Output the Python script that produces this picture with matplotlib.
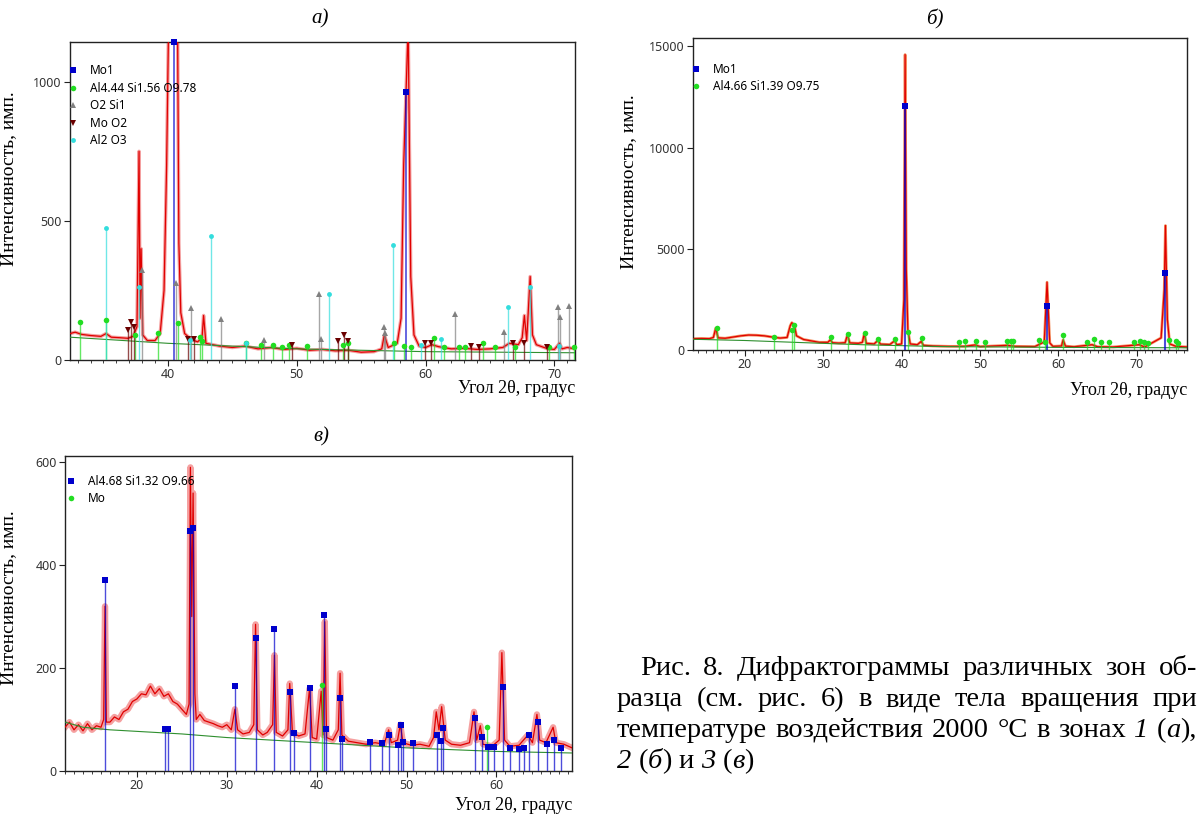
import matplotlib
matplotlib.use('Agg')
import matplotlib.pyplot as plt
from matplotlib.ticker import MultipleLocator

plt.rcParams['font.family'] = ['Noto Sans', 'DejaVu Sans']
SERIF = ['Liberation Serif', 'DejaVu Serif']

# ---------------- panel a) ----------------
a_x = [32.4, 32.8, 33.3, 34.0, 34.8, 35.2, 35.6, 36.3, 36.9, 37.3, 37.6, 37.76, 37.84, 37.92, 38.05,
       38.4, 39.0, 39.4, 39.7, 39.9, 40.05, 40.75, 40.85, 41.0, 41.3, 41.8, 42.3, 42.65, 42.77, 42.95,
       44.0, 45.0, 46.0, 47.0, 48.0, 49.0, 50.0, 51.0, 52.0, 53.0, 54.0, 55.0, 56.0, 56.6, 56.8, 57.1,
       57.8, 58.1, 58.3, 58.65, 58.85, 59.1, 59.5, 60.0, 60.5, 61.0, 62.0, 63.0, 64.0, 65.0, 66.0,
       66.5, 67.2, 67.5, 67.67, 67.85, 68.12, 68.3, 68.6, 69.5, 70.0, 70.4, 70.6, 71.0, 71.6]
a_y = [95, 100, 92, 88, 85, 95, 82, 80, 78, 85, 120, 750, 150, 400, 90,
       70, 70, 95, 250, 700, 1200, 1200, 420, 170, 95, 75, 65, 80, 160, 60,
       50, 45, 50, 40, 45, 38, 42, 35, 38, 33, 35, 28, 30, 40, 90, 45,
       60, 150, 700, 1200, 300, 90, 50, 45, 55, 48, 40, 42, 38, 40, 45,
       60, 55, 80, 160, 70, 300, 90, 55, 40, 38, 60, 40, 45, 40]
a_base_x = [32.4, 40.0, 50.0, 60.0, 71.6]
a_base_y = [82, 60, 40, 30, 26]

a_mo_x = [40.45, 58.52]
a_mo_y = [1143, 963]
a_al_x = [33.17, 35.2, 37.47, 39.22, 40.78, 42.47, 42.68, 46.08, 47.19, 48.14, 48.88, 49.42, 50.76,
          53.6, 53.95, 57.53, 58.34, 58.87, 60.66, 61.41, 62.6, 63.05, 64.48, 65.37, 66.92, 69.6, 71.54]
a_al_y = [138, 142, 90, 98, 132, 84, 70, 60, 54, 54, 48, 54, 50,
          54, 60, 62, 52, 48, 78, 48, 48, 48, 60, 48, 48, 48, 48]
a_si_x = [38.0, 40.63, 41.79, 44.11, 47.48, 51.75, 51.9, 56.79, 56.88, 62.3, 66.06, 70.29, 70.41, 71.1]
a_si_y = [324, 278, 186, 146, 72, 238, 74, 118, 96, 166, 102, 190, 156, 194]
a_moo2_x = [36.9, 37.1, 37.35, 41.58, 42.03, 49.63, 53.2, 53.65, 54.0, 59.92, 60.45, 63.5, 64.15,
            66.77, 67.67, 69.46]
a_moo2_y = [108, 138, 118, 74, 74, 54, 70, 90, 70, 62, 60, 50, 48, 60, 60, 48]
a_al2o3_x = [35.17, 37.76, 41.7, 43.34, 46.08, 52.49, 57.44, 59.68, 61.2, 66.42, 68.12, 70.35]
a_al2o3_y = [474, 262, 72, 444, 60, 238, 412, 54, 74, 190, 262, 50]

# ---------------- panel б) ----------------
b_x = [13.4, 14.5, 15.5, 16.0, 16.3, 16.6, 17.5, 18.5, 19.5, 20.5, 21.5, 22.5, 23.5, 24.5, 25.4,
       25.8, 26.0, 26.3, 26.6, 27.5, 28.5, 29.5, 30.6, 30.9, 31.2, 32.0, 32.8, 33.1, 33.4, 34.5,
       35.0, 35.25, 35.5, 36.5, 37.0, 37.3, 38.5, 39.1, 39.4, 40.0, 40.3, 40.45, 40.6, 40.8, 41.1,
       42.0, 42.5, 42.8, 44.0, 46.0, 48.0, 49.4, 50.0, 53.5, 54.5, 57.0, 58.2, 58.55, 58.9, 59.3,
       60.4, 60.6, 60.9, 62.0, 64.3, 65.0, 67.0, 70.3, 71.0, 73.1, 73.5, 73.65, 73.9, 74.2, 75.0, 76.4]
b_y = [560, 570, 560, 620, 1080, 600, 580, 640, 700, 740, 730, 700, 640, 590, 620,
       1200, 1350, 1250, 700, 520, 450, 380, 380, 500, 360, 340, 360, 750, 350, 330,
       380, 820, 330, 300, 480, 290, 270, 450, 260, 300, 2500, 14600, 4000, 1000, 300,
       260, 420, 230, 200, 180, 180, 250, 170, 230, 180, 170, 400, 3350, 350, 180,
       200, 500, 190, 160, 260, 160, 150, 260, 150, 600, 3000, 6150, 1500, 300, 180, 150]
b_base_x = [13.4, 20.0, 27.0, 35.0, 45.0, 60.0, 76.4]
b_base_y = [530, 470, 370, 260, 170, 130, 110]

b_mo_x = [40.5, 58.55, 73.6]
b_mo_y = [12040, 2180, 3800]
b_al_x = [16.47, 23.7, 26.0, 26.25, 31.0, 33.2, 35.3, 37.0, 39.2, 40.8, 42.6, 47.3, 48.1, 49.5, 50.7,
          53.5, 53.9, 54.2, 57.5, 58.3, 60.6, 63.6, 64.5, 65.4, 66.5, 69.7, 70.4, 70.9, 71.4, 74.1,
          74.95, 75.3]
b_al_y = [1070, 630, 990, 1237, 660, 790, 825, 530, 530, 907, 578, 413, 463, 463, 413,
          450, 450, 450, 490, 413, 742, 413, 530, 413, 413, 413, 463, 413, 360, 490,
          463, 360]

# ---------------- panel в) ----------------
c_x = [12.0, 12.5, 13.0, 13.5, 14.0, 14.5, 15.0, 15.5, 16.0, 16.3, 16.45, 16.6, 17.0, 17.5, 18.0,
       18.5, 19.0, 19.5, 20.0, 20.5, 21.0, 21.5, 22.0, 22.5, 23.0, 23.5, 24.0, 24.5, 25.0, 25.5,
       25.8, 25.95, 26.1, 26.25, 26.45, 26.6, 27.0, 27.5, 28.0, 28.5, 29.0, 29.5, 30.0, 30.5, 30.9,
       31.2, 31.8, 32.5, 33.0, 33.2, 33.4, 34.0, 34.5, 35.1, 35.3, 35.5, 36.2, 36.8, 37.0, 37.3,
       38.0, 38.7, 39.2, 39.5, 40.0, 40.5, 40.7, 40.9, 41.1, 41.8, 42.4, 42.6, 42.8, 43.5, 44.5,
       45.5, 46.5, 47.5, 48.0, 48.3, 49.0, 49.3, 49.6, 50.5, 51.5, 52.5, 53.0, 53.3, 53.6, 53.9,
       54.3, 55.0, 56.0, 57.0, 57.5, 57.8, 58.2, 58.5, 59.5, 60.3, 60.6, 60.9, 61.5, 62.5, 63.5,
       64.0, 64.5, 64.8, 65.5, 66.3, 66.6, 67.5, 68.4]
c_y = [85, 95, 80, 90, 78, 92, 80, 88, 85, 100, 320, 95, 95, 105, 100,
       115, 120, 135, 140, 150, 148, 165, 150, 160, 145, 150, 135, 130, 120, 110,
       130, 590, 300, 540, 150, 100, 110, 98, 95, 92, 88, 85, 90, 80, 120,
       80, 72, 75, 90, 285, 80, 70, 75, 90, 225, 75, 68, 80, 170, 75,
       68, 72, 160, 65, 62, 155, 70, 290, 65, 60, 80, 190, 70, 58, 55,
       52, 55, 52, 80, 55, 60, 90, 55, 50, 52, 48, 65, 115, 80, 125,
       60, 52, 50, 55, 115, 60, 88, 52, 48, 60, 230, 60, 48, 50, 70,
       55, 110, 60, 55, 85, 55, 52, 45]
c_base_x = [12.0, 14.0, 17.0, 25.0, 30.0, 40.0, 50.0, 60.0, 68.4]
c_base_y = [95, 85, 80, 72, 65, 55, 45, 38, 35]

c_al_x = [16.4, 23.1, 23.5, 25.9, 26.2, 30.9, 33.2, 35.2, 37.0, 37.5, 39.2, 40.85, 41.05, 42.6, 42.85,
          45.98, 47.3, 48.05, 49.0, 49.4, 49.6, 50.75, 53.4, 53.8, 54.0, 57.66, 58.4, 59.1, 59.7,
          60.7, 61.55, 62.5, 63.1, 63.66, 64.65, 65.6, 66.35, 67.2]
c_al_y = [371, 81, 81, 466, 472, 166, 259, 275, 153, 73, 161, 303, 82, 142, 62,
          57, 55, 70, 51, 90, 57, 54, 69, 59, 83, 103, 67, 47, 47,
          163, 45, 43, 45, 69, 96, 52, 60, 45]
c_mo_x = [40.55, 58.9]
c_mo_y = [168, 85]

# caption lines: words, each word = pieces (text, italic)
cap_lines = [
    [[('Рис.', False)], [('8.', False)], [('Дифрактограммы', False)], [('различных', False)],
     [('зон', False)], [('об-', False)]],
    [[('разца', False)], [('(см.', False)], [('рис.', False)], [('6)', False)], [('в', False)],
     [('виде', False)], [('тела', False)], [('вращения', False)], [('при', False)]],
    [[('температуре', False)], [('воздействия', False)], [('2000', False)], [('°С', False)],
     [('в', False)], [('зонах', False)], [('1', True)], [('(', False), ('а', True), ('),', False)]],
    [[('2', True)], [('(', False), ('б', True), (')', False)], [('и', False)], [('3', True)],
     [('(', False), ('в', True), (')', False)]],
]

fig = plt.figure(figsize=(11.99, 8.19), dpi=100)
fig.patch.set_facecolor('white')
W, H = 1199.0, 819.0


def px_axes(l, t, r, b):
    return fig.add_axes([l / W, 1 - b / H, (r - l) / W, (b - t) / H])


def draw_panel(ax, cx, cy, bx, by, phases, band_lw, band_col):
    ax.plot(cx, cy, color=band_col, lw=band_lw, zorder=2, solid_joinstyle='round')
    ax.plot(cx, cy, color='#e00000', lw=0.9, zorder=3)
    ax.plot(bx, by, color='#2f8f2f', lw=0.8, zorder=3)
    for name, px, py, marker, color, ms, stick_lw in phases:
        ax.vlines(px, 0, py, colors=color, lw=stick_lw, alpha=0.7, zorder=3.5)
        ax.plot(px, py, ls='none', marker=marker, color=color, ms=ms, mew=0,
                label=name, zorder=5, clip_on=False)


def style_axes(ax, xlim, ylim, xmaj, ymaj):
    ax.set_xlim(*xlim)
    ax.set_ylim(*ylim)
    ax.xaxis.set_major_locator(MultipleLocator(xmaj))
    ax.xaxis.set_minor_locator(MultipleLocator(1))
    ax.yaxis.set_major_locator(MultipleLocator(ymaj))
    ax.tick_params(which='major', direction='out', length=4, width=0.8, color='#222222',
                   labelsize=9, labelcolor='#333333', pad=2)
    ax.tick_params(which='minor', direction='out', length=2.5, width=0.6, color='#222222')
    for s in ax.spines.values():
        s.set_linewidth(1.0)
        s.set_color('#222222')


def add_legend(ax, x_off, y_off):
    ax.legend(loc='upper left', bbox_to_anchor=(x_off, y_off), frameon=False, fontsize=8.5,
              handlelength=0.5, handletextpad=1.2, labelspacing=0.38, borderaxespad=0,
              borderpad=0, markerscale=1.0)


def labels(ax, yl_x, yl_y, xl_y):
    ax.set_ylabel('Интенсивность, имп.', family=SERIF, fontsize=14)
    ax.yaxis.set_label_coords(yl_x, yl_y)
    ax.text(1.0, xl_y, 'Угол 2θ, градус', transform=ax.transAxes, ha='right', va='center',
            family=SERIF, fontsize=13)


GREEN = '#22dd22'
BLUE = '#0000cc'

# a)
ax_a = px_axes(70, 42, 575, 360)
draw_panel(ax_a, a_x, a_y, a_base_x, a_base_y, [
    ('Mo1', a_mo_x, a_mo_y, 's', BLUE, 5, 1.2),
    ('Al4.44 Si1.56 O9.78', a_al_x, a_al_y, 'o', GREEN, 4, 1.0),
    ('O2 Si1', a_si_x, a_si_y, '^', '#808080', 4, 1.0),
    ('Mo O2', a_moo2_x, a_moo2_y, 'v', '#6a0000', 5, 1.0),
    ('Al2 O3', a_al2o3_x, a_al2o3_y, 'o', '#33dddd', 3.5, 1.0),
], 2.5, '#f4a0a0')
style_axes(ax_a, (32.4, 71.6), (0, 1143), 10, 500)
add_legend(ax_a, 0.0, 0.93)
labels(ax_a, -0.105, 0.57, -0.09)

# б)
ax_b = px_axes(693, 38, 1187, 350)
draw_panel(ax_b, b_x, b_y, b_base_x, b_base_y, [
    ('Mo1', b_mo_x, b_mo_y, 's', BLUE, 5, 1.5),
    ('Al4.66 Si1.39 O9.75', b_al_x, b_al_y, 'o', GREEN, 4, 1.0),
], 2.0, '#f39060')
style_axes(ax_b, (13.4, 76.4), (0, 15420), 10, 5000)
add_legend(ax_b, 0.0, 0.92)
labels(ax_b, -0.114, 0.54, -0.13)

# в)
ax_c = px_axes(65, 456, 572, 771)
draw_panel(ax_c, c_x, c_y, c_base_x, c_base_y, [
    ('Al4.68 Si1.32 O9.66', c_al_x, c_al_y, 's', BLUE, 5, 1.0),
    ('Mo', c_mo_x, c_mo_y, 'o', GREEN, 4, 1.0),
], 4.5, '#f5a0a0')
style_axes(ax_c, (12.0, 68.4), (0, 612), 10, 200)
add_legend(ax_c, 0.006, 0.94)
labels(ax_c, -0.095, 0.55, -0.11)

# panel titles
for x, y, t in [(320, 19, 'а)'), (935, 19, 'б)'), (321, 437, 'в)')]:
    fig.text(x / W, 1 - y / H, t, ha='center', va='center', family=SERIF, style='italic',
             fontsize=15)

# caption: justified lines built from measured words
cax = fig.add_axes([0, 0, 1, 1])
cax.axis('off')
cax.set_xlim(0, W)
cax.set_ylim(H, 0)
CAP = 20.5
renderer = fig.canvas.get_renderer()


def piece_width(text, italic):
    t = cax.text(0, 0, text, family=SERIF, style='italic' if italic else 'normal', fontsize=CAP)
    w = t.get_window_extent(renderer).width
    t.remove()
    return w


def draw_line(words, x0, y, x1=None):
    widths = [[piece_width(s, it) for s, it in word] for word in words]
    total = sum(sum(w) for w in widths)
    if x1 is None:
        gap = 0.25 * CAP * 100 / 72
    else:
        gap = (x1 - x0 - total) / (len(words) - 1)
    x = x0
    for word, ws in zip(words, widths):
        for (s, it), w in zip(word, ws):
            cax.text(x, y, s, ha='left', va='baseline', family=SERIF, fontsize=CAP,
                     style='italic' if it else 'normal')
            x += w
        x += gap


draw_line(cap_lines[0], 640, 675, 1197)
draw_line(cap_lines[1], 617, 706, 1197)
draw_line(cap_lines[2], 617, 737, 1197)
draw_line(cap_lines[3], 617, 768)

fig.savefig('out.png', dpi=100)
